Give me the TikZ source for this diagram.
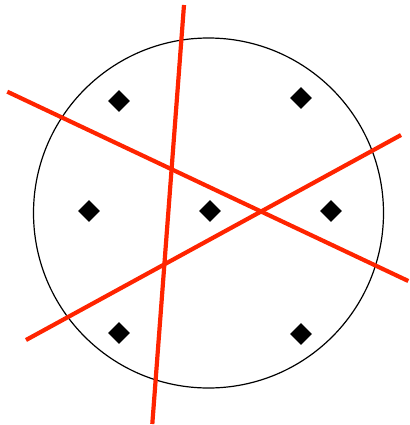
\documentclass[tikz,border=0pt]{standalone}
\usetikzlibrary{shapes.geometric}
\definecolor{cutred}{RGB}{255,36,0}

\begin{document}
\begin{tikzpicture}[x=1pt,y=-1pt,
    dot/.style={diamond,fill=black,inner sep=0pt,minimum size=22pt},
    cutline/.style={line width=4.2pt,cutred}]
  \useasboundingbox (0,0) rectangle (409,425);
  \draw[line width=1.2pt] (208.5,213) circle (175);

  \foreach \px/\py [count=\i] in {119/101,301/98,89/211,210/211,331/211,119/333,301/334} {
    \node[dot] (d\i) at (\px,\py) {};
  }

  \coordinate (a1) at (184,5);    \coordinate (a2) at (152.3,424);
  \coordinate (b1) at (7.3,91.7); \coordinate (b2) at (408.3,281);
  \coordinate (c1) at (26,340);   \coordinate (c2) at (401,135);
  \draw[cutline] (a1) -- (a2);
  \draw[cutline] (b1) -- (b2);
  \draw[cutline] (c1) -- (c2);
\end{tikzpicture}
\end{document}
